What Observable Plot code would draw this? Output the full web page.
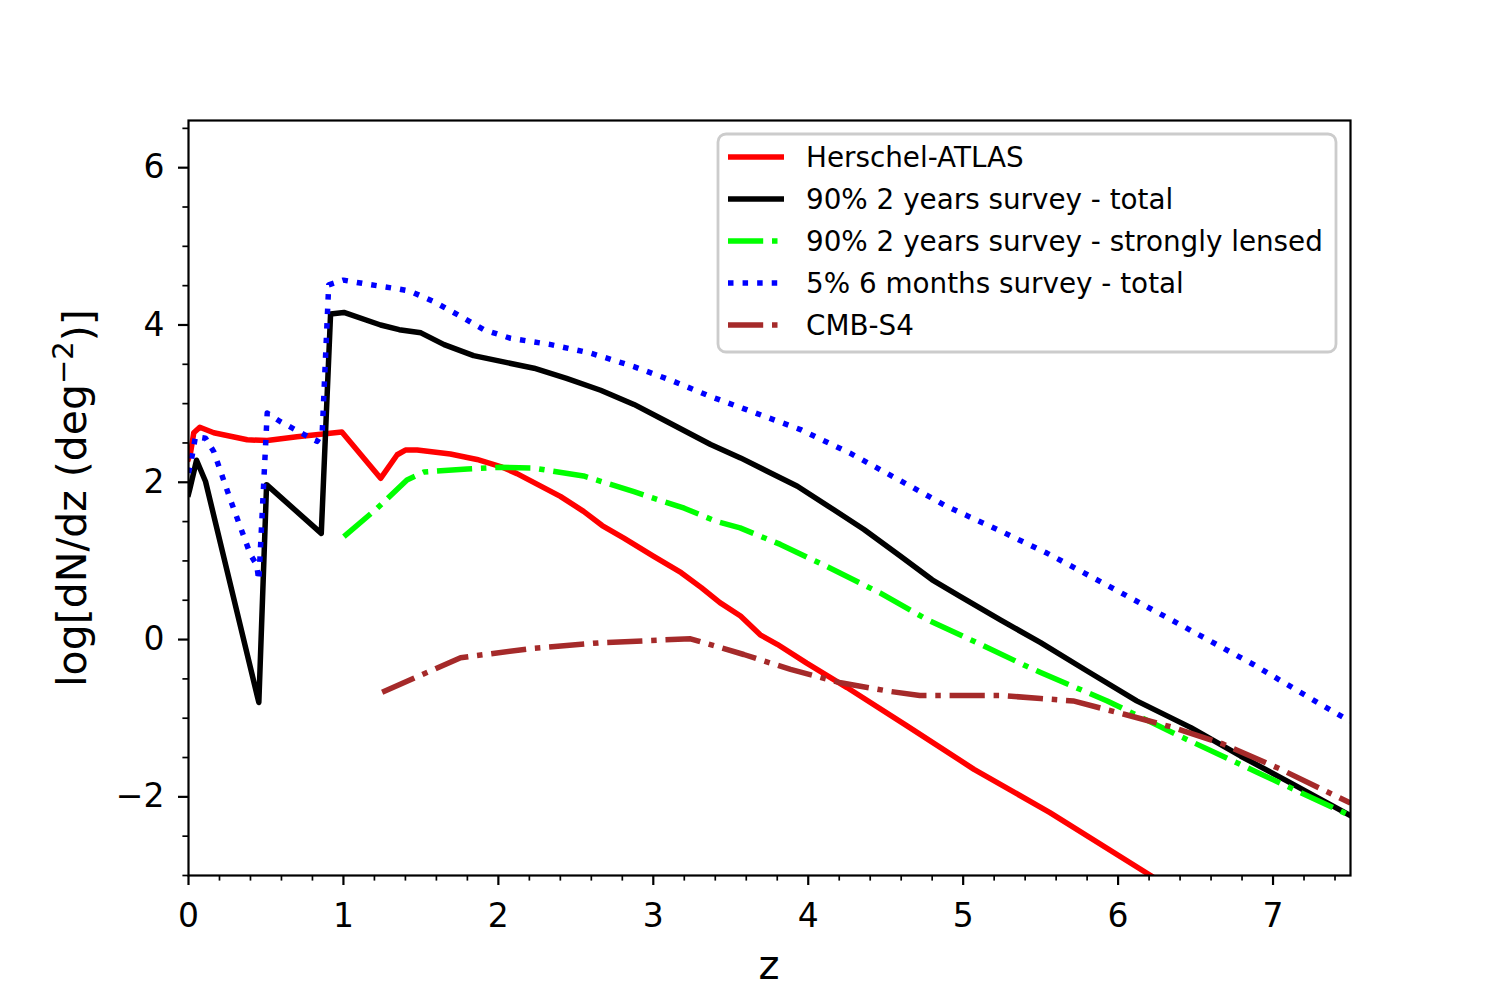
<!DOCTYPE html>
<html><head><meta charset="utf-8">
<script src="https://cdn.jsdelivr.net/npm/d3@7"></script>
<script src="https://cdn.jsdelivr.net/npm/@observablehq/plot@0.6"></script>
<style>body{margin:0;background:#fff;} svg{display:block;}</style>
</head><body><div id="chart"></div>
<script>
// Herschel-ATLAS
const redZ = [0.0, 0.013, 0.034, 0.073, 0.163, 0.379, 0.508, 0.70, 0.99, 1.24, 1.347, 1.40, 1.476, 1.69, 1.862, 2.014, 2.12, 2.40, 2.55, 2.67, 2.81, 3.00, 3.18, 3.31, 3.43, 3.563, 3.69, 3.80, 3.99, 4.25, 4.64, 5.07, 5.56, 6.21, 6.30];
const redV = [2.30, 2.37, 2.63, 2.70, 2.63, 2.54, 2.53, 2.58, 2.64, 2.05, 2.35, 2.41, 2.41, 2.36, 2.29, 2.20, 2.11, 1.82, 1.63, 1.45, 1.29, 1.06, 0.85, 0.66, 0.47, 0.30, 0.06, -0.06, -0.30, -0.61, -1.10, -1.65, -2.20, -3.0, -3.12];
// 90% 2 years survey - total
const blackZ = [0.0, 0.008, 0.052, 0.11, 0.454, 0.504, 0.857, 0.917, 1.003, 1.24, 1.36, 1.50, 1.65, 1.84, 2.01, 2.23, 2.44, 2.66, 2.875, 3.09, 3.37, 3.563, 3.735, 3.93, 4.165, 4.36, 4.596, 4.80, 4.98, 5.24, 5.50, 5.80, 6.12, 6.47, 6.79, 7.11, 7.50];
const blackV = [1.85, 1.91, 2.28, 2.01, -0.80, 1.97, 1.35, 4.14, 4.16, 4.00, 3.94, 3.90, 3.75, 3.61, 3.54, 3.45, 3.32, 3.17, 2.99, 2.77, 2.48, 2.31, 2.14, 1.95, 1.65, 1.40, 1.06, 0.76, 0.55, 0.25, -0.04, -0.40, -0.78, -1.12, -1.48, -1.82, -2.24];
// 90% 2 years survey - strongly lensed
const greenZ = [1.003, 1.218, 1.41, 1.52, 1.80, 2.01, 2.23, 2.55, 2.875, 3.20, 3.41, 3.56, 3.82, 4.14, 4.466, 4.77, 5.09, 5.41, 5.50, 5.93, 6.40, 6.90, 7.50];
const greenV = [1.31, 1.67, 2.03, 2.13, 2.17, 2.19, 2.18, 2.08, 1.88, 1.67, 1.50, 1.42, 1.21, 0.91, 0.59, 0.25, -0.04, -0.34, -0.42, -0.78, -1.23, -1.69, -2.24];
// 5% 6 months survey - total
const blueZ = [0.0, 0.013, 0.045, 0.11, 0.163, 0.27, 0.40, 0.44, 0.454, 0.508, 0.594, 0.744, 0.83, 0.863, 0.905, 1.0, 1.15, 1.347, 1.43, 1.58, 1.756, 1.906, 2.08, 2.34, 2.60, 2.875, 3.11, 3.37, 3.606, 3.95, 4.27, 4.66, 4.897, 5.22, 5.54, 5.93, 6.40, 6.876, 7.33, 7.50];
const blueV = [2.12, 2.22, 2.58, 2.56, 2.39, 1.78, 1.08, 0.95, 0.75, 2.88, 2.77, 2.61, 2.52, 2.63, 4.51, 4.57, 4.52, 4.46, 4.43, 4.30, 4.11, 3.94, 3.83, 3.75, 3.64, 3.47, 3.30, 3.09, 2.92, 2.67, 2.37, 1.95, 1.69, 1.40, 1.10, 0.69, 0.19, -0.32, -0.85, -1.04];
// CMB-S4
const cmbZ = [1.25, 1.756, 2.23, 2.66, 3.24, 3.584, 3.886, 4.21, 4.53, 4.72, 5.24, 5.50, 5.71, 6.04, 6.36, 6.68, 7.05, 7.50];
const cmbV = [-0.67, -0.23, -0.11, -0.04, 0.01, -0.19, -0.38, -0.55, -0.66, -0.71, -0.71, -0.75, -0.78, -0.95, -1.12, -1.33, -1.65, -2.08];

const seriesNames = ["Herschel-ATLAS", "90% 2 years survey - total", "90% 2 years survey - strongly lensed", "5% 6 months survey - total", "CMB-S4"];
const xTicks = [0, 1, 2, 3, 4, 5, 6, 7];
const yTicks = [-2, 0, 2, 4, 6];

const LW = 5.5;
const DOT = `${LW} ${1.65 * LW}`;
const DASHDOT = `${6.4 * LW} ${1.6 * LW} ${LW} ${1.6 * LW}`;
const series = [
  {name: seriesNames[0], z: redZ, v: redV, color: "#ff0000", dash: null},
  {name: seriesNames[1], z: blackZ, v: blackV, color: "#000000", dash: null},
  {name: seriesNames[2], z: greenZ, v: greenV, color: "#00ff00", dash: DASHDOT},
  {name: seriesNames[3], z: blueZ, v: blueV, color: "#0000ff", dash: DOT},
  {name: seriesNames[4], z: cmbZ, v: cmbV, color: "#a52a2a", dash: DASHDOT}
];
const rows = s => s.z.map((z, i) => ({z, v: s.v[i]}));
const xMinor = d3.range(0, 76, 2).map(d => d / 10).filter(d => !Number.isInteger(d));
const yMinor = d3.range(-6, 14, 1).map(d => d / 2).filter(d => d % 2 !== 0);
const fmt = d => d < 0 ? "\u2212" + Math.abs(d) : String(d);

const plot = Plot.plot({
  width: 1500, height: 1000,
  marginLeft: 188, marginRight: 150, marginTop: 120, marginBottom: 125,
  style: {fontFamily: "DejaVu Sans", background: "white", color: "black", overflow: "visible"},
  x: {domain: [0, 7.5]},
  y: {domain: [-3, 6.6]},
  marks: [
    ...series.map(s => Plot.line(rows(s), {
      x: "z", y: "v", stroke: s.color, strokeWidth: LW,
      strokeDasharray: s.dash, strokeLinecap: s.dash ? "butt" : "square", strokeLinejoin: "round", clip: true
    })),
    Plot.frame({stroke: "black", strokeWidth: 2.2}),
    Plot.axisX({ticks: xTicks, tickSize: 10, tickPadding: 18, strokeWidth: 2.2, fontSize: 33, tickFormat: fmt, label: null}),
    Plot.axisX({ticks: xMinor, tickSize: 5.6, strokeWidth: 1.7, tickFormat: () => "", label: null}),
    Plot.axisY({ticks: yTicks, tickSize: 10, tickPadding: 14, strokeWidth: 2.2, fontSize: 33, tickFormat: fmt, label: null}),
    Plot.axisY({ticks: yMinor, tickSize: 5.6, strokeWidth: 1.7, tickFormat: () => "", label: null})
  ]
});

const svg = d3.select(plot);
// axis labels
svg.append("text").attr("x", 769).attr("y", 965).attr("dy", "0.35em")
  .attr("text-anchor", "middle").attr("font-size", 40).attr("font-family", "DejaVu Sans").text("z");
const yl = svg.append("text").attr("transform", "translate(72,498) rotate(-90)")
  .attr("text-anchor", "middle").attr("dy", "0.35em").attr("font-size", 41).attr("font-family", "DejaVu Sans");
yl.append("tspan").text("log[dN/dz (deg");
yl.append("tspan").attr("dy", "-0.45em").attr("font-size", 29).text("\u22122");
yl.append("tspan").attr("dy", "0.45em").text(")]");

// legend
const lg = svg.append("g").attr("font-family", "DejaVu Sans").attr("font-size", 27.8).attr("text-anchor", "start");
lg.append("rect").attr("x", 718).attr("y", 134).attr("width", 618).attr("height", 218)
  .attr("rx", 8).attr("fill", "white").attr("fill-opacity", 0.8).attr("stroke", "#cccccc").attr("stroke-width", 2.8);
series.forEach((s, i) => {
  const y = 157 + 42 * i;
  lg.append("line").attr("x1", 728).attr("x2", 784).attr("y1", y).attr("y2", y)
    .attr("stroke", s.color).attr("stroke-width", LW).attr("stroke-dasharray", s.dash);
  lg.append("text").attr("x", 806).attr("y", y).attr("dy", "0.35em").attr("text-anchor", "start").text(s.name);
});

document.getElementById("chart").appendChild(plot);
</script>
</body></html>
